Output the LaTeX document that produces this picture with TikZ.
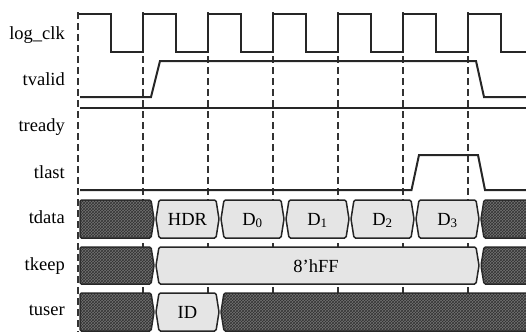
\documentclass[tikz,border=0pt]{standalone}
\usepackage{fontspec}
\setmainfont{Liberation Serif}
\usepackage{tikz}
\usetikzlibrary{patterns}
\tikzset{
    sig/.style={font=\fontsize{18.5}{20}\selectfont, anchor=base east, inner sep=0pt},
    buslbl/.style={font=\fontsize{18.5}{20}\selectfont, anchor=base, inner sep=0pt},
    wave/.style={line width=2pt, draw=black!85, line join=miter},
    guide/.style={line width=1.1pt, draw=black!80, dash pattern=on 7pt off 4pt},
    darkbus/.style={draw=black!85, line width=1.5pt, rounded corners=1.5pt, fill=black!55,
                    postaction={pattern=crosshatch, pattern color=black!80}},
    lightbus/.style={draw=black!85, line width=1.5pt, rounded corners=1.5pt, fill=black!10}
}
% bus segments: style, x from, x to, y top, y bottom
\newcommand{\busseg}[5]{%
  \draw[#1] ({#2+1},{(#4+#5)/2}) -- ({#2+4},#4) -- ({#3-4},#4) -- ({#3-1},{(#4+#5)/2})
            -- ({#3-4},#5) -- ({#2+4},#5) -- cycle;}
\newcommand{\busfirst}[4]{%
  \draw[#1] (80,#3) -- ({#2-4},#3) -- ({#2-1},{(#3+#4)/2}) -- ({#2-4},#4) -- (80,#4) -- cycle;}

\begin{document}
\begin{tikzpicture}[x=1pt, y=-1pt]
\path[use as bounding box] (0,0) rectangle (526,332);
\clip (0,0) rectangle (526,332);

% signal names
\node[sig] (lclk)   at (65,39)  {log\_clk};
\node[sig] (tvalid) at (65,85)  {tvalid};
\node[sig] (tready) at (65,131) {tready};
\node[sig] (tlast)  at (65,178) {tlast};
\node[sig] (tdata)  at (65,223) {tdata};
\node[sig] (tkeep)  at (65,270) {tkeep};
\node[sig] (tuser)  at (65,315) {tuser};

% clock edges
\foreach \x in {78,143,...,468}
  \draw[guide] (\x,12) -- (\x,332);

\draw[wave] (79,14) foreach \k in {0,...,6} {
  -- ({110.5+65*\k},14) -- ({110.5+65*\k},52) -- ({143+65*\k},52) -- ({143+65*\k},14) };
\draw[wave] (80,97) -- (151,97) -- (160,61) -- (476,61) -- (484,97) -- (526,97);
\draw[wave, line width=2.5pt] (80,108) -- (526,108);
\draw[wave] (80,190) -- (411.5,190) -- (419,155) -- (478,155) -- (485,190) -- (526,190);

% tdata
\busfirst{darkbus}{155}{200}{238}
\foreach \x in {155,220,...,415} {
  \busseg{lightbus}{\x}{\x+65}{200}{238}
}
\busseg{darkbus}{480}{545}{200}{238}
\node[buslbl] (hdr)    at (187.5,225) {HDR};
\node[buslbl] (dzero)  at (252.5,225) {D\textsubscript{0}};
\node[buslbl] (done)   at (317.5,225) {D\textsubscript{1}};
\node[buslbl] (dtwo)   at (382.5,225) {D\textsubscript{2}};
\node[buslbl] (dthree) at (447.5,225) {D\textsubscript{3}};

% tkeep
\busfirst{darkbus}{155}{247}{284}
\busseg{lightbus}{155}{480}{247}{284}
\busseg{darkbus}{480}{545}{247}{284}
\node[buslbl] (keep) at (316,272) {8'hFF};

% tuser
\busfirst{darkbus}{155}{293}{331}
\busseg{lightbus}{155}{220}{293}{331}
\busseg{darkbus}{220}{545}{293}{331}
\node[buslbl] (id) at (187.5,318) {ID};
\end{tikzpicture}
\end{document}
